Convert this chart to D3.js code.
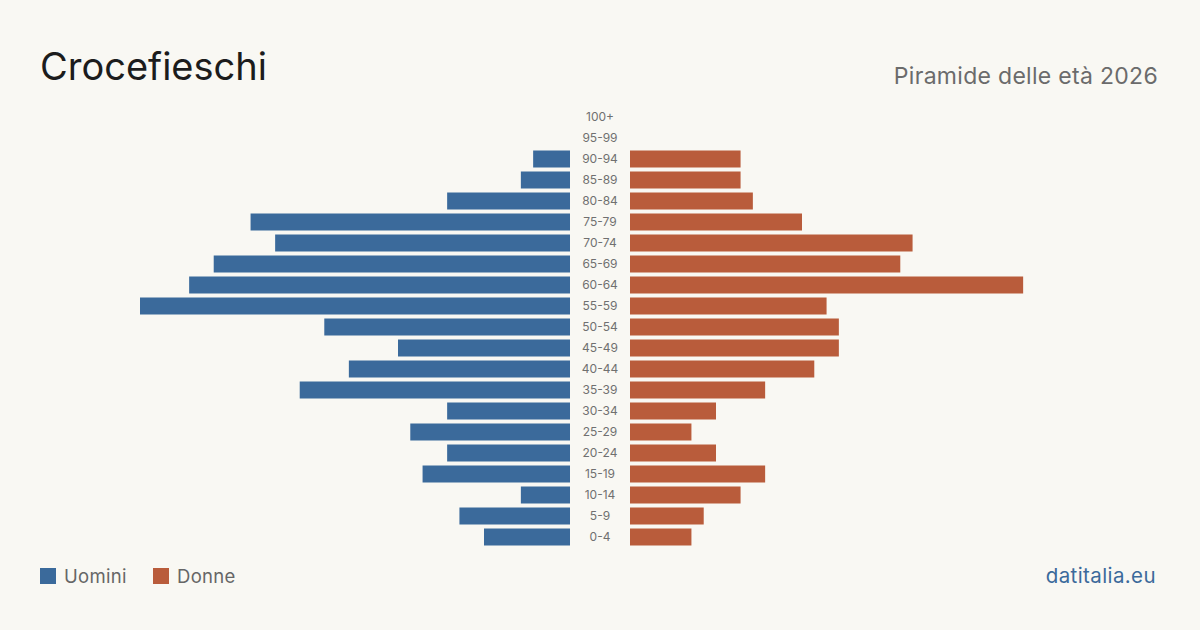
<!DOCTYPE html>
<html>
<head>
<meta charset="utf-8">
<script src="https://cdn.jsdelivr.net/npm/d3@7"></script>
<style>
  html, body { margin: 0; padding: 0; background: #f9f8f3; }
  svg { display: block; font-family: Inter, "Noto Sans", sans-serif; }
</style>
</head>
<body>
<svg id="chart" width="1200" height="630"></svg>
<script>
// classi di età, dall'alto verso il basso
var classi = ["100+","95-99","90-94","85-89","80-84","75-79","70-74","65-69","60-64","55-59",
  "50-54","45-49","40-44","35-39","30-34","25-29","20-24","15-19","10-14","5-9","0-4"];
var uomini = [0,0,3,4,10,26,24,29,31,35,20,14,18,22,10,13,10,12,4,9,7];
var donne  = [0,0,9,9,10,14,23,22,32,16,17,17,15,11,7,5,7,11,9,6,5];

var colUomini = "#3b6a9b", colDonne = "#b95c3b";

var svg = d3.select("#chart");
var W = +svg.attr("width"), H = +svg.attr("height");

svg.append("rect").attr("width", W).attr("height", H).attr("fill", "#f9f8f3");

// titolo e sottotitolo
svg.append("text").attr("x", 40).attr("y", 80)
  .attr("font-size", 38).attr("fill", "#1c1c1c").text("Crocefieschi");
svg.append("text").attr("x", 1158).attr("y", 84).attr("text-anchor", "end")
  .attr("font-size", 23).attr("letter-spacing", 0.3)
  .attr("fill", "#6b6b6b").text("Piramide delle età 2026");

var y = d3.scaleBand().domain(classi).range([106.5, 547.5]).paddingInner(4/21).paddingOuter(2/21);

var maxV = d3.max(uomini.concat(donne));
var xL = d3.scaleLinear().domain([0, maxV]).range([570, 140]);
var xR = d3.scaleLinear().domain([0, maxV]).range([630, 1060]);

var g = svg.append("g");

g.selectAll("rect.u").data(classi).join("rect").attr("class", "u")
  .attr("x", (d, i) => xL(uomini[i]))
  .attr("y", d => y(d))
  .attr("width", (d, i) => xL(0) - xL(uomini[i]))
  .attr("height", y.bandwidth())
  .attr("fill", colUomini);

g.selectAll("rect.d").data(classi).join("rect").attr("class", "d")
  .attr("x", xR(0))
  .attr("y", d => y(d))
  .attr("width", (d, i) => xR(donne[i]) - xR(0))
  .attr("height", y.bandwidth())
  .attr("fill", colDonne);

g.selectAll("text.eta").data(classi).join("text").attr("class", "eta")
  .attr("x", 600)
  .attr("y", d => y(d) + y.bandwidth() / 2)
  .attr("dy", "0.35em")
  .attr("text-anchor", "middle")
  .attr("font-size", 12)
  .attr("fill", "#707070")
  .text(d => d);

// legenda
var legenda = [{nome: "Uomini", col: colUomini, x: 40}, {nome: "Donne", col: colDonne, x: 153}];
var lg = svg.selectAll("g.leg").data(legenda).join("g").attr("class", "leg")
  .attr("transform", d => "translate(" + d.x + ",568)");
lg.append("rect").attr("width", 16).attr("height", 16).attr("fill", d => d.col);
lg.append("text").attr("x", 24).attr("y", 15).attr("font-size", 18.5)
  .attr("letter-spacing", 0.3).attr("fill", "#666").text(d => d.nome);

svg.append("text").attr("x", 1156).attr("y", 583).attr("text-anchor", "end")
  .attr("font-size", 20.5).attr("letter-spacing", 0.4)
  .attr("fill", "#3b6a9b").text("datitalia.eu");
</script>
</body>
</html>
